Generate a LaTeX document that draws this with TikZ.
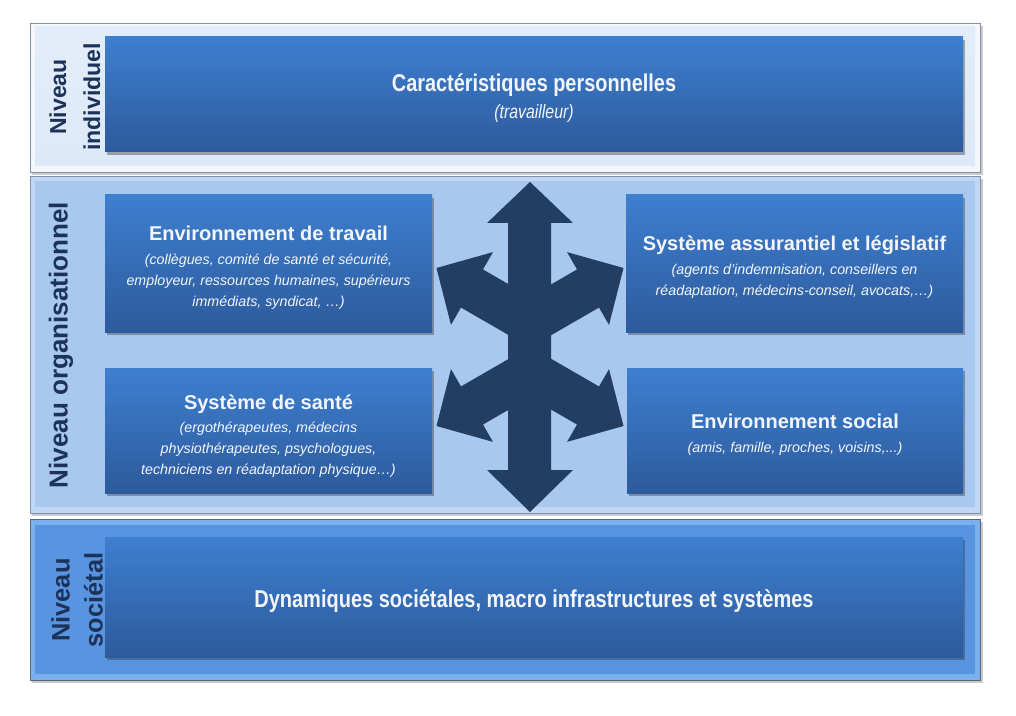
\documentclass[tikz,border=0pt]{standalone}
\usepackage{fontspec}
\setmainfont{Liberation Sans}
\newfontfamily\narrowfont[FakeStretch=0.82]{Liberation Sans}
\usetikzlibrary{fit,shadows}
\definecolor{navy}{RGB}{35,62,96}
\definecolor{labelc}{RGB}{28,50,88}
\definecolor{boxtop}{RGB}{62,127,208}
\definecolor{boxbot}{RGB}{45,90,156}
\definecolor{txt}{RGB}{242,246,252}
\definecolor{bandAmain}{RGB}{220,233,248}
\definecolor{bandAbev}{RGB}{244,248,253}
\definecolor{bandBmain}{RGB}{168,200,239}
\definecolor{bandBbev}{RGB}{192,216,246}
\definecolor{bandCmain}{RGB}{88,148,223}
\definecolor{bandCbev}{RGB}{122,176,238}
\definecolor{bandedge}{RGB}{130,145,165}
\begin{document}
\begin{tikzpicture}[x=0.75pt,y=-0.75pt,
  innerbox/.style={inner sep=0pt, top color=boxtop, bottom color=boxbot, draw=none,
    drop shadow={shadow xshift=1.5pt, shadow yshift=-2pt, opacity=0.4, fill=black!80}},
  boxtext/.style={inner sep=0pt, text=txt, align=center, yshift=-3pt,
    font={\fontsize{10.7}{15.75}\selectfont\itshape}},
  lvl/.style={rotate=90, align=center, text=labelc},
  star/.style={fill=navy, draw=none},
  shadowfill/.style={fill=black!45, opacity=0.45}]
\useasboundingbox (0,0) rectangle (1016,716);
\fill[white] (0,0) rectangle (1016,716);
% ---------- bands ----------
% top band
\fill[shadowfill] (32,26) rectangle (983,175);
\fill[bandAbev] (30,23) rectangle (980,172);
\fill[top color=bandAmain!80!white, bottom color=bandAmain] (35,27) rectangle (975,166);
\draw[bandedge, line width=0.5pt] (30,23) rectangle (980,172);
% middle band
\fill[shadowfill] (32,179) rectangle (983,516);
\fill[bandBbev] (30,176) rectangle (980,513);
\fill[bandBmain] (35,181) rectangle (975,507);
\draw[bandedge, line width=0.5pt] (30,176) rectangle (980,513);
% bottom band
\fill[shadowfill] (32,522) rectangle (983,683);
\fill[bandCbev] (30,519) rectangle (980,680);
\fill[bandCmain] (35,525) rectangle (975,674);
\draw[bandedge!70!black, line width=0.5pt] (30,519) rectangle (980,680);
% ---------- level labels ----------
\node[lvl, font={\fontsize{17.3}{25.5}\selectfont\bfseries}] (lvlind) at (75,97) {Niveau\\individuel};
\node[lvl, font={\fontsize{19.5}{25}\selectfont\bfseries}] (lvlorg) at (61,345) {Niveau organisationnel};
\node[lvl, font={\fontsize{19}{24.75}\selectfont\bfseries}] (lvlsoc) at (77,600) {Niveau\\sociétal};
% ---------- boxes ----------
\node[innerbox, fit={(105,37)(963,152)}] (perso) {};
\node[innerbox, fit={(105,195)(432,332)}] (travail) {};
\node[innerbox, fit={(626,195)(963,332)}] (assur) {};
\node[innerbox, fit={(105,368)(432,493)}] (sante) {};
\node[innerbox, fit={(627,368)(963,493)}] (social) {};
\node[innerbox, fit={(105,537)(963,657)}] (societe) {};
% ---------- box texts ----------
\node[boxtext, font={\narrowfont\fontsize{14.5}{20.25}\selectfont\itshape}] (persotxt) at (perso.center)
  {{\fontsize{18.2}{20}\selectfont\bfseries\upshape Caractéristiques personnelles}\\(travailleur)};
\node[boxtext] (travailtxt) at (travail.center)
  {{\fontsize{15}{18}\selectfont\bfseries\upshape Environnement de travail}\\[2.25pt]
   (collègues, comité de santé et sécurité,\\
   employeur, ressources humaines, supérieurs\\
   immédiats, syndicat, …)};
\node[boxtext] (assurtxt) at (assur.center)
  {{\fontsize{15}{18}\selectfont\bfseries\upshape Système assurantiel et législatif}\\[2.25pt]
   (agents d’indemnisation, conseillers en\\
   réadaptation, médecins-conseil, avocats,…)};
\node[boxtext, yshift=-1pt] (santetxt) at (sante.center)
  {{\fontsize{15}{18}\selectfont\bfseries\upshape Système de santé}\\[1.5pt]
   (ergothérapeutes, médecins\\
   physiothérapeutes, psychologues,\\
   techniciens en réadaptation physique…)};
\node[boxtext] (socialtxt) at (social.center)
  {{\fontsize{15}{18}\selectfont\bfseries\upshape Environnement social}\\[2.25pt]
   (amis, famille, proches, voisins,...)};
\node[boxtext, font={\narrowfont\fontsize{18.3}{22}\selectfont\bfseries}] (societetxt) at (societe.center)
  {Dynamiques sociétales, macro infrastructures et systèmes};
% ---------- star of arrows ----------
\fill[star] (508,223) -- (487,223) -- (530,182) -- (573,223) -- (551,223)
  -- (551,470) -- (573,470) -- (530,512) -- (487,470) -- (508,470) -- cycle;
\foreach \ang/\cy in {150/322, 30/322, 210/372, -30/372}{
  \begin{scope}[shift={(530,\cy)}, rotate=\ang]
    \fill[star] (0,-22) -- (67,-22) -- (67,-42) -- (108,0) -- (67,42) -- (67,22) -- (0,22) -- cycle;
  \end{scope}
}
\end{tikzpicture}
\end{document}
